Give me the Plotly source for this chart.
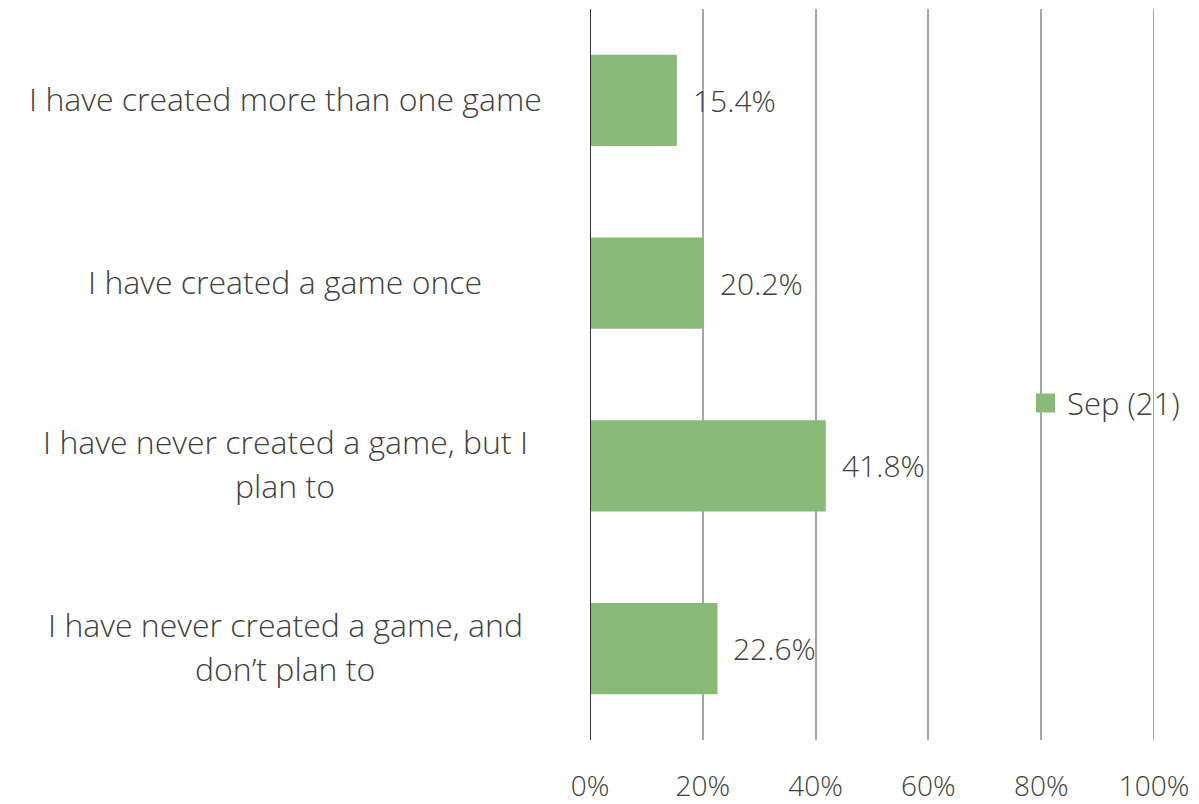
import plotly.graph_objects as go

# Survey responses (share of respondents)
categories = [
    "I have created more than one game",
    "I have created a game once",
    "I have never created a game, but I\nplan to",
    "I have never created a game, and\ndon\u2019t plan to",
]
values = [15.4, 20.2, 41.8, 22.6]
series_name = "Sep (21)"
x_ticks = [0, 20, 40, 60, 80, 100]
x_tick_labels = ["0%", "20%", "40%", "60%", "80%", "100%"]

FONT = "Open Sans"
TEXT = "#404040"
BAR = "#87BB77"
GRID = "#A6A6A6"

fig = go.Figure()
fig.add_trace(go.Bar(
    x=values,
    y=categories,
    orientation="h",
    name=series_name,
    marker=dict(color=BAR, line=dict(width=0)),
    showlegend=False,
))

annotations = []
# value labels to the right of each bar
for cat, v in zip(categories, values):
    annotations.append(dict(
        x=v, y=cat, xref="x", yref="y",
        text=f"{v:.1f}%", showarrow=False,
        xanchor="left", yanchor="middle", xshift=14,
        font=dict(family=FONT, size=30, color=TEXT, weight=300),
    ))

# category labels, centred line by line
LINE_GAP = 44
for cat in categories:
    lines = cat.split("\n")
    n = len(lines)
    for i, line in enumerate(lines):
        annotations.append(dict(
            x=0, y=cat, xref="paper", yref="y",
            text=line, showarrow=False,
            xanchor="center", yanchor="middle",
            xshift=-305,
            yshift=((n - 1) / 2 - i) * LINE_GAP + 2,
            font=dict(family=FONT, size=32, color=TEXT, weight=300),
        ))

# legend: swatch + series name
LEG_Y = 0.461
annotations.append(dict(
    x=0.842, y=LEG_Y, xref="paper", yref="paper",
    text=series_name, showarrow=False,
    xanchor="left", yanchor="middle",
    font=dict(family=FONT, size=31, color=TEXT, weight=300),
))

shapes = [
    # boundary gridline at the top of the scale
    dict(
        type="line", xref="x", yref="paper",
        x0=x_ticks[-1], x1=x_ticks[-1], y0=0, y1=1,
        line=dict(color=GRID, width=2),
    ),
    # zero line
    dict(
        type="line", xref="x", yref="paper",
        x0=0, x1=0, y0=0, y1=1,
        line=dict(color="#333333", width=2),
    ),
    # legend swatch
    dict(
        type="rect", xref="paper", yref="paper",
        x0=0.7908, x1=0.8245, y0=LEG_Y - 0.013, y1=LEG_Y + 0.013,
        fillcolor=BAR, line=dict(width=0),
    ),
]

fig.update_layout(
    width=1199, height=804,
    margin=dict(l=590, r=45, t=9, b=64, autoexpand=False),
    paper_bgcolor="white", plot_bgcolor="white",
    bargap=0.5,
    showlegend=False,
    font=dict(family=FONT, color=TEXT),
    annotations=annotations,
    shapes=shapes,
    xaxis=dict(
        range=[0, 100],
        tickvals=x_ticks, ticktext=x_tick_labels,
        showgrid=True, gridcolor=GRID, gridwidth=2,
        zeroline=False, showline=False,
        ticks="outside", ticklen=21, tickcolor="rgba(0,0,0,0)",
        tickfont=dict(family=FONT, size=28, color=TEXT, weight=300),
        fixedrange=True,
    ),
    yaxis=dict(
        categoryorder="array", categoryarray=categories[::-1],
        showticklabels=False, showgrid=False, zeroline=False,
        range=[-0.5, len(categories) - 0.5],
    ),
)

fig.write_html("out.html")
